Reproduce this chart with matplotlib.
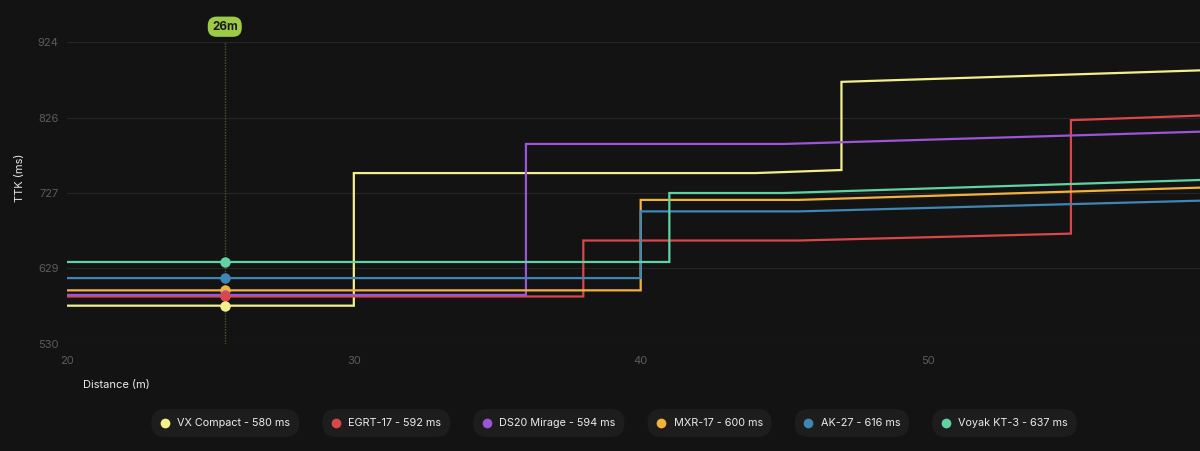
import matplotlib
matplotlib.use("Agg")
import matplotlib.pyplot as plt
from matplotlib.patches import FancyBboxPatch

plt.rcParams['font.family'] = ['Inter', 'DejaVu Sans']

# weapon TTK curves (distance in m, TTK in ms), steps listed as repeated x
names = ["VX Compact", "EGRT-17", "DS20 Mirage", "MXR-17", "AK-27", "Voyak KT-3"]
base_ttk = [580, 592, 594, 600, 616, 637]
colors = ["#f3ef8c", "#d9474b", "#9b55d6", "#f2b33d", "#3f86b5", "#5fd3a3"]

dist_vx = [20, 30, 30, 44, 47, 47, 59.5]
ttk_vx = [580, 580, 753, 753, 757, 872, 887]
dist_egrt = [20, 38, 38, 45.5, 55, 55, 59.5]
ttk_egrt = [592, 592, 665, 665, 674, 822, 828]
dist_ds20 = [20, 36, 36, 45, 59.5]
ttk_ds20 = [594, 594, 791, 791, 807]
dist_mxr = [20, 40, 40, 45.5, 59.5]
ttk_mxr = [600, 600, 718, 718, 734]
dist_ak = [20, 40, 40, 45.5, 59.5]
ttk_ak = [616, 616, 703, 703, 717]
dist_voyak = [20, 41, 41, 45, 59.5]
ttk_voyak = [637, 637, 727, 727, 744]

all_dist = [dist_vx, dist_egrt, dist_ds20, dist_mxr, dist_ak, dist_voyak]
all_ttk = [ttk_vx, ttk_egrt, ttk_ds20, ttk_mxr, ttk_ak, ttk_voyak]

y_ticks = [530, 628.5, 727, 825.5, 924]
y_labels = ["530", "629", "727", "826", "924"]
x_ticks = [20, 30, 40, 50]
cursor_dist = 25.5
cursor_label = "26m"

bg = "#131313"
W, H = 1200, 451
fig = plt.figure(figsize=(12, 4.51), dpi=100, facecolor=bg)
ax = fig.add_axes([67 / W, 1 - 344 / H, (W - 67) / W, (344 - 42) / H])
ax.set_facecolor(bg)

for d, t, c in zip(all_dist, all_ttk, colors):
    ax.plot(d, t, color=c, lw=1.6, solid_joinstyle='miter', zorder=3)

# cursor line + dots (drawn top series first so lower ones sit on top)
ax.axvline(cursor_dist, color="#4d5a2c", lw=1, ls=(0, (1, 1)), zorder=2)
for v, c in list(zip(base_ttk, colors))[::-1]:
    ax.plot([cursor_dist], [v], 'o', color=c, ms=7.5, mec='none', zorder=4)
ax.annotate(cursor_label, xy=(cursor_dist, 924), xytext=(0, 11), textcoords='offset points',
            ha='center', va='center', fontsize=8.5, fontweight='bold', color="#1a1a1a",
            bbox=dict(boxstyle="round,pad=0.35,rounding_size=0.75", fc="#9dcb47", ec="none"),
            annotation_clip=False)

ax.set_xlim(20, 59.5)
ax.set_ylim(530, 924)
ax.set_yticks(y_ticks)
ax.set_yticklabels(y_labels)
ax.set_xticks(x_ticks)
ax.grid(axis='y', color="#262626", lw=0.8, zorder=0)
ax.tick_params(length=0, colors="#5c5c5c", labelsize=8)
ax.tick_params(axis='y', pad=6)
ax.tick_params(axis='x', pad=9)
for s in ax.spines.values():
    s.set_visible(False)

fig.text(20 / W, 1 - 178 / H, "TTK (ms)", rotation=90, ha='center', va='center',
         color="#ececec", fontsize=8)
fig.text(83 / W, 1 - 385 / H, "Distance (m)", ha='left', va='center',
         color="#ececec", fontsize=8)

# legend pills, laid out on an overlay in pixel units
lax = fig.add_axes([0, 0, 1, 1], zorder=-1)
lax.set_xlim(0, W)
lax.set_ylim(H, 0)
lax.axis('off')

fig.canvas.draw()
renderer = fig.canvas.get_renderer()
labels = [f"{n} - {v} ms" for n, v in zip(names, base_ttk)]
fs = 7.8
widths = []
for lab in labels:
    t = lax.text(0, 0, lab, fontsize=fs)
    widths.append(t.get_window_extent(renderer).width)
    t.remove()
pad_l, dot_w, gap, pad_r, sep = 9, 9, 8, 9, 23
pill_w = [pad_l + dot_w + gap + w + pad_r for w in widths]
total = sum(pill_w) + sep * (len(pill_w) - 1)
x0 = 614 - total / 2
yc = 423
ph = 28
for lab, c, pw in zip(labels, colors, pill_w):
    lax.add_patch(FancyBboxPatch((x0, yc - ph / 2), pw, ph,
                                 boxstyle=f"round,pad=0,rounding_size={ph / 2}",
                                 fc="#1d1d1d", ec="none"))
    lax.plot([x0 + pad_l + dot_w / 2], [yc], 'o', ms=7, color=c, mec='none')
    lax.text(x0 + pad_l + dot_w + gap, yc, lab, fontsize=fs,
             color="#ececec", ha='left', va='center')
    x0 += pw + sep

fig.savefig("out.png", dpi=100, facecolor=bg)
